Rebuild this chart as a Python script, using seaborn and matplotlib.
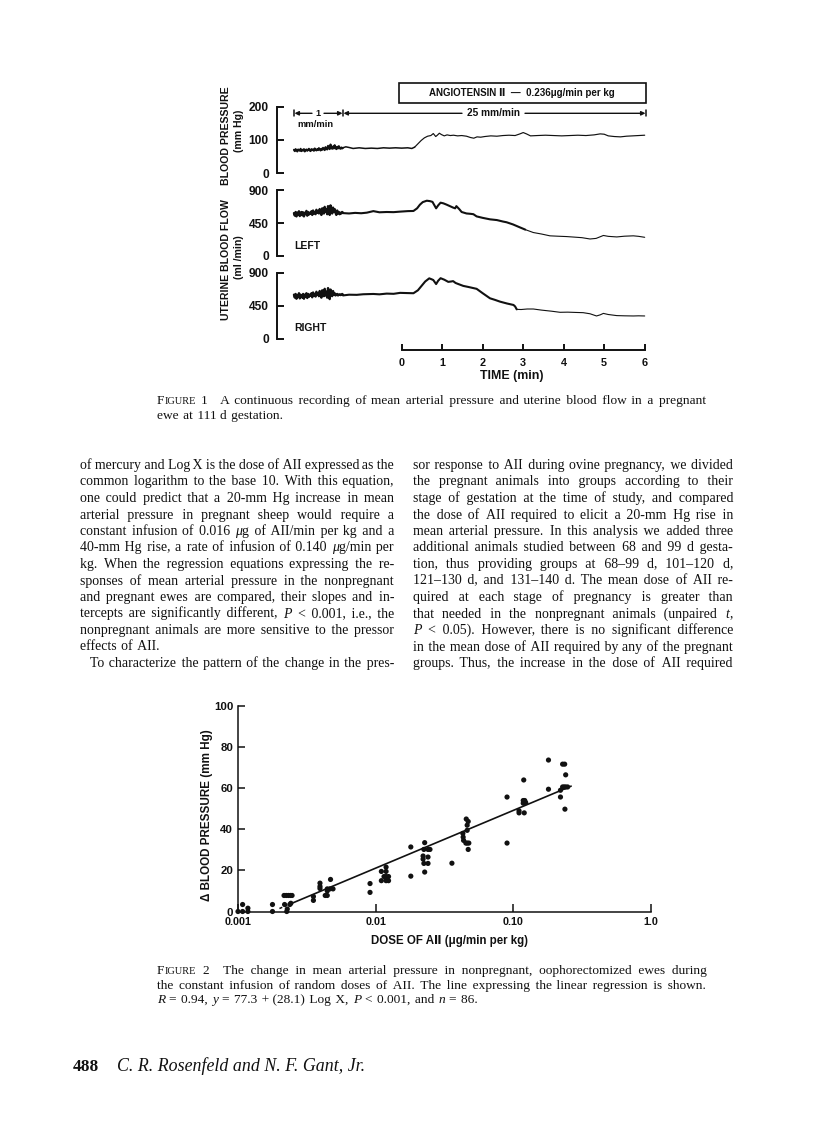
import numpy as np
import matplotlib
matplotlib.use("Agg")
import matplotlib.pyplot as plt
from matplotlib.patches import Rectangle, FancyArrowPatch
from matplotlib.lines import Line2D
from matplotlib.ticker import NullLocator
import seaborn as sns

# ======================= DATA =======================
# Figure 1 - continuous recording (time in min from start of AII infusion)
SLOW_T_RANGE = (-2.66, -1.45)      # compressed 1 mm/min section before the 25 mm/min record
BP_SLOW = [70, 66, 72, 68, 65, 71, 69, 67, 73, 66,
           70, 68, 72, 65, 69, 71, 67, 70, 73, 68,
           66, 72, 69, 71, 67, 74, 70, 68, 72, 69,
           75, 71, 68, 73, 70, 76, 72, 69, 78, 73,
           71, 82, 75, 72, 86, 77, 73, 80, 74, 84,
           76, 72, 79, 74, 81, 75, 73, 77, 74, 76]
LEFT_SLOW = [585, 550, 600, 540, 590, 560, 610, 545, 580, 600,
             555, 595, 540, 590, 570, 615, 550, 600, 565, 590,
             575, 610, 560, 620, 580, 600, 570, 630, 590, 615,
             580, 640, 600, 560, 650, 610, 580, 670, 600, 640,
             570, 680, 610, 560, 690, 620, 580, 660, 600, 640,
             590, 560, 620, 580, 600, 570, 590, 580, 600, 590]
RIGHT_SLOW = [600, 560, 610, 545, 590, 570, 620, 550, 600, 580,
              560, 610, 545, 600, 575, 620, 555, 610, 570, 600,
              585, 620, 565, 630, 590, 610, 575, 640, 600, 620,
              580, 650, 600, 560, 660, 610, 580, 680, 590, 640,
              560, 690, 620, 540, 670, 610, 580, 650, 600, 620,
              590, 600, 610, 590, 600, 605, 595, 600, 610, 600]

BP_FAST_T = [-1.45, -1.38, -1.30, -1.20, -1.05, -0.90, -0.75, -0.60, -0.45, -0.30,
             -0.15, 0.00, 0.15, 0.25, 0.32, 0.40, 0.48, 0.56, 0.64, 0.72,
             0.78, 0.84, 0.88, 0.93, 0.98, 1.05, 1.12, 1.20, 1.28, 1.38,
             1.48, 1.60, 1.70, 1.78, 1.86, 1.95, 2.05, 2.20, 2.35, 2.50,
             2.65, 2.80, 2.92, 3.00, 3.08, 3.18, 3.35, 3.55, 3.75, 3.95,
             4.15, 4.35, 4.55, 4.75, 4.90, 5.00, 5.10, 5.25, 5.40, 5.55,
             5.70, 5.85, 6.00]
BP_FAST = [76, 79, 77, 74, 76, 74, 75, 74, 76, 75,
           76, 75, 76, 74, 78, 88, 98, 106, 111, 113,
           119, 110, 114, 120, 116, 112, 115, 113, 114, 112,
           113, 111, 107, 105, 109, 108, 110, 112, 111, 113,
           114, 113, 118, 122, 118, 112, 113, 114, 113, 112,
           113, 114, 113, 115, 118, 117, 112, 110, 109, 111,
           112, 113, 114]

LEFT_FAST_T = [-1.45, -1.30, -1.15, -1.00, -0.86, -0.70, -0.55, -0.37, -0.20, -0.04,
               0.15, 0.29, 0.38, 0.45, 0.52, 0.62, 0.70, 0.76, 0.85, 0.90,
               0.96, 1.03, 1.11, 1.19, 1.27, 1.32, 1.35, 1.42, 1.48, 1.60,
               1.70, 1.77, 1.85, 2.00, 2.18, 2.35, 2.50, 2.59, 2.75, 2.92,
               3.05, 3.25, 3.45, 3.66, 3.85, 4.07, 4.25, 4.45, 4.65, 4.80,
               4.90, 4.98, 5.10, 5.31, 5.50, 5.72, 5.85, 6.00]
LEFT_FAST = [585, 580, 588, 583, 591, 612, 596, 600, 598, 605,
             612, 614, 650, 700, 735, 754, 748, 738, 650, 690,
             727, 718, 700, 680, 660, 650, 680, 640, 600, 580,
             575, 570, 540, 520, 500, 490, 470, 460, 430, 390,
             360, 320, 300, 275, 270, 265, 258, 250, 232, 240,
             262, 280, 268, 260, 270, 275, 268, 255]

RIGHT_FAST_T = [-1.45, -1.30, -1.11, -0.95, -0.70, -0.55, -0.37, -0.20, -0.04, 0.15,
                0.29, 0.40, 0.49, 0.58, 0.68, 0.74, 0.78, 0.85, 0.90, 0.96,
                1.05, 1.15, 1.22, 1.27, 1.33, 1.40, 1.52, 1.65, 1.85, 2.00,
                2.18, 2.30, 2.43, 2.60, 2.76, 2.80, 2.84, 2.95, 3.10, 3.25,
                3.45, 3.70, 3.91, 4.10, 4.30, 4.48, 4.65, 4.81, 4.90, 4.98,
                5.10, 5.31, 5.50, 5.72, 5.85, 6.00]
RIGHT_FAST = [590, 600, 598, 606, 610, 605, 615, 612, 625, 622,
              620, 660, 720, 780, 823, 810, 800, 745, 790, 825,
              805, 775, 780, 785, 760, 745, 720, 705, 680, 620,
              551, 530, 505, 480, 460, 440, 400, 398, 405, 405,
              390, 375, 360, 362, 358, 355, 340, 310, 325, 345,
              330, 315, 312, 310, 312, 310]
LEFT_FADE_T = 3.05
RIGHT_FADE_T = 2.84

BP_TICKS = [0, 100, 200]
UBF_TICKS = [0, 450, 900]
TIME_TICKS = [0, 1, 2, 3, 4, 5, 6]

# Figure 2 - change in mean arterial pressure vs dose of AII
DOSE = [0.00100, 0.00108, 0.00108, 0.00118, 0.00118, 0.00178, 0.00178,
        0.00216, 0.00224, 0.00232, 0.00240, 0.00247, 0.00218, 0.00238, 0.00228, 0.00226, 0.00242,
        0.00353, 0.00353, 0.00394, 0.00394, 0.00394, 0.00430, 0.00445, 0.00445, 0.00465,
        0.00490, 0.00445, 0.00470,
        0.0091, 0.0091, 0.0110, 0.0110, 0.0119, 0.0119, 0.0119, 0.0119, 0.0115, 0.0124, 0.0124,
        0.0180, 0.0180,
        0.0227, 0.0224, 0.0240, 0.0248, 0.0221, 0.0221, 0.0240, 0.0224, 0.0240, 0.0227,
        0.0358, 0.0430, 0.0432, 0.0435, 0.0455, 0.0462, 0.0470, 0.0462, 0.0452, 0.0462,
        0.0475, 0.0470,
        0.0900, 0.0900, 0.110, 0.110, 0.120, 0.119, 0.118, 0.121, 0.118, 0.123,
        0.180, 0.180, 0.228, 0.236, 0.240, 0.220, 0.228, 0.234, 0.240, 0.248, 0.220, 0.237]
DELTA_BP = [0.0, 3.4, 0.0, 1.6, 0.0, 3.4, 0.0,
            7.8, 7.8, 7.8, 7.8, 7.8, 3.4, 3.4, 1.2, 0.0, 4.0,
            7.3, 5.4, 13.8, 12.2, 11.2, 7.8, 7.8, 11.0, 11.0,
            11.0, 10.0, 15.6,
            13.6, 9.3, 19.5, 15.0, 21.6, 19.5, 17.0, 15.0, 17.0, 17.0, 15.0,
            31.4, 17.2,
            33.5, 30.2, 30.2, 30.2, 27.0, 25.5, 26.5, 23.4, 23.4, 19.2,
            23.5, 38.0, 36.2, 34.6, 45.0, 42.0, 43.8, 39.5, 33.3, 33.3,
            33.3, 30.2,
            55.7, 33.3, 49.0, 48.0, 48.0, 64.0, 54.0, 54.0, 52.7, 53.0,
            73.7, 59.5, 71.7, 71.7, 66.5, 59.0, 60.6, 60.6, 60.6, 60.6, 55.7, 49.8]
REG_INTERCEPT = 77.3
REG_SLOPE = 28.1
REG_DASH_RANGE = [0.00200, 0.00235]
REG_SOLID_RANGE = [0.00235, 0.263]
DOSE_TICKS = [0.001, 0.01, 0.1, 1.0]
DOSE_TICK_LABELS = ["0.001", "0.01", "0.10", "1.0"]
DBP_TICKS = [0, 20, 40, 60, 80, 100]

# Text of the page
BODY_LEFT = [
    "of mercury and Log X is the dose of AII expressed as the",
    "common logarithm to the base 10. With this equation,",
    "one could predict that a 20-mm Hg increase in mean",
    "arterial pressure in pregnant sheep would require a",
    "constant infusion of 0.016 ~\u03bc~g of AII/min per kg and a",
    "40-mm Hg rise, a rate of infusion of 0.140 ~\u03bc~g/min per",
    "kg. When the regression equations expressing the re-",
    "sponses of mean arterial pressure in the nonpregnant",
    "and pregnant ewes are compared, their slopes and in-",
    "tercepts are significantly different, ~P~ < 0.001, i.e., the",
    "nonpregnant animals are more sensitive to the pressor",
    "effects of AII.",
    "To characterize the pattern of the change in the pres-",
]
BODY_RIGHT = [
    "sor response to AII during ovine pregnancy, we divided",
    "the pregnant animals into groups according to their",
    "stage of gestation at the time of study, and compared",
    "the dose of AII required to elicit a 20-mm Hg rise in",
    "mean arterial pressure. In this analysis we added three",
    "additional animals studied between 68 and 99 d gesta-",
    "tion, thus providing groups at 68\u201399 d, 101\u2013120 d,",
    "121\u2013130 d, and 131\u2013140 d. The mean dose of AII re-",
    "quired at each stage of pregnancy is greater than",
    "that needed in the nonpregnant animals (unpaired ~t~,",
    "~P~ < 0.05). However, there is no significant difference",
    "in the mean dose of AII required by any of the pregnant",
    "groups. Thus, the increase in the dose of AII required",
]
CAPTION1 = [
    "F^IGURE^ 1  A continuous recording of mean arterial pressure and uterine blood flow in a pregnant",
    "ewe at 111 d gestation.",
]
CAPTION2 = [
    "F^IGURE^ 2  The change in mean arterial pressure in nonpregnant, oophorectomized ewes during",
    "the constant infusion of random doses of AII. The line expressing the linear regression is shown.",
    "~R~ = 0.94, ~y~ = 77.3 + (28.1) Log X, ~P~ < 0.001, and ~n~ = 86.",
]

# ======================= SETUP =======================
sns.set_style("white")
SANS = ["Liberation Sans", "DejaVu Sans"]
SERIF = ["Liberation Serif", "DejaVu Serif"]
plt.rcParams["font.family"] = SANS
INK = "#111111"

W, H = 816, 1140
fig = plt.figure(figsize=(W / 100, H / 100), dpi=100)
fig.patch.set_facecolor("white")
renderer = fig.canvas.get_renderer()


def fx(x):
    return x / W


def fy(y):
    return 1 - y / H


def add_ax(x0, ytop, x1, ybot):
    ax = fig.add_axes([fx(x0), fy(ybot), (x1 - x0) / W, (ybot - ytop) / H])
    ax.patch.set_alpha(0)
    return ax


def measure(s, size, family, ital=False, weight="normal"):
    t = fig.text(0, 0, s, fontsize=size, family=family,
                 style="italic" if ital else "normal", weight=weight)
    w = t.get_window_extent(renderer).width
    t.remove()
    return w


def fit_size(s, width_px, family=SANS, weight="bold", style="normal", ref=10.0):
    return ref * width_px / measure(s, ref, family, style == "italic", weight)


def put_text(X, Y, s, size, family=SANS, weight="bold", style="normal",
             rotation=0, ha="center", va="center"):
    return fig.text(fx(X), fy(Y), s, fontsize=size, family=family, weight=weight,
                    style=style, rotation=rotation, ha=ha, va=va, color=INK,
                    rotation_mode="anchor")


def fit_text(X, Y, s, width_px, family=SANS, weight="bold", style="normal",
             rotation=0, ha="center", va="center"):
    size = fit_size(s, width_px, family, weight, style)
    return put_text(X, Y, s, size, family, weight, style, rotation, ha, va)


def pline(X0, Y0, X1, Y1, lw=1.0):
    fig.add_artist(Line2D([fx(X0), fx(X1)], [fy(Y0), fy(Y1)], lw=lw, color=INK,
                          transform=fig.transFigure))


def parrow(X0, Y, X1, lw=1.0):
    fig.add_artist(FancyArrowPatch((fx(X0), fy(Y)), (fx(X1), fy(Y)),
                                   arrowstyle="-|>", mutation_scale=6, lw=lw,
                                   color=INK, transform=fig.transFigure,
                                   shrinkA=0, shrinkB=0))


# ---------- justified text helpers ----------
HAIR = "\u200a"


def parse(tok):
    segs, buf, ital, sc = [], "", False, False
    for ch in tok:
        if ch in "~^":
            if buf:
                segs.append((buf, ital, sc))
                buf = ""
            if ch == "~":
                ital = not ital
            else:
                sc = not sc
        else:
            buf += ch
    if buf:
        segs.append((buf, ital, sc))
    return segs


def seg_list(tok, size):
    return [(t.upper() if sc else t, it, size * 0.78 if sc else size)
            for t, it, sc in parse(tok)]


def tok_list(line):
    toks, extra = [], []
    for r in line.split(" "):
        if r == "":
            if extra:
                extra[-1] += 1
            continue
        toks.append(r)
        extra.append(0)
    return toks, extra


def tok_width(tok, size, family):
    return sum(measure(t, s, family, it) for t, it, s in seg_list(tok, size))


def block_size(lines, width, family, target, min_gap=0.2):
    worst = 0.0
    em = target * 100 / 72
    for line in lines:
        toks, extra = tok_list(line)
        nat = sum(tok_width(t, target, family) for t in toks)
        nat += (len(toks) - 1) * min_gap * em + sum(extra) * 0.5 * em
        worst = max(worst, nat / width)
    return target / max(worst, 1.0)


_hair_cache = {}


def hair_width(size, family, ital):
    key = (size, ital)
    if key not in _hair_cache:
        _hair_cache[key] = (measure("a" + HAIR * 20 + "a", size, family, ital)
                            - measure("aa", size, family, ital)) / 20.0
    return _hair_cache[key]


def draw_line(line, x0, x1, ybase, size, family, justify=True, indent=0.0):
    """Justified line drawn as few text runs; word gaps are filled with hair spaces."""
    toks, extra = tok_list(line)
    em = size * 100 / 72
    segs_per = [seg_list(t, size) for t in toks]
    seg_w = [[measure(t, s, family, it) for t, it, s in sg] for sg in segs_per]
    widths = [sum(w) for w in seg_w]
    extra_px = [e * 0.5 * em for e in extra]
    n = len(toks)
    if justify and n > 1:
        gap = (x1 - x0 - indent - sum(widths) - sum(extra_px[:-1])) / (n - 1)
    else:
        gap = 0.32 * em
    xs, x = [], x0 + indent
    for i in range(n):
        xs.append(x)
        x += widths[i] + gap + extra_px[i]
    runs = []
    for i, sg in enumerate(segs_per):
        for j, (t, it, s) in enumerate(sg):
            if j == 0 and runs and runs[-1][2] == it and runs[-1][3] == s:
                r = runs[-1]
                hw = hair_width(s, family, it)
                cur = measure(r[1], s, family, it)
                k = max(1, int(round((xs[i] - r[0] - cur) / hw)))
                target = xs[i] + seg_w[i][0] - r[0]
                m = measure(r[1] + HAIR * k + t, s, family, it)
                k = max(1, k + int(round((target - m) / hw)))
                r[1] += HAIR * k + t
            elif j > 0 and runs and runs[-1][2] == it and runs[-1][3] == s:
                runs[-1][1] += t
            else:
                rx = xs[i] + sum(seg_w[i][:j])
                runs.append([rx, t, it, s])
    for rx, t, it, s in runs:
        fig.text(fx(rx), fy(ybase), t, fontsize=s, family=family,
                 style="italic" if it else "normal", va="baseline", ha="left",
                 color=INK)


# ======================= FIGURE 1 =======================
T0_X, PX_MIN = 401.7, 40.5          # pixel of t = 0 and pixels per minute
XL, XR = 276.5, 650
XLIM = ((XL - T0_X) / PX_MIN, (XR - T0_X) / PX_MIN)

ax_bp = add_ax(XL, 106.7, XR, 173.0)
ax_l = add_ax(XL, 190.0, XR, 256.0)
ax_r = add_ax(XL, 272.7, XR, 338.7)
ax_t = add_ax(XL, 340.0, XR, 350.0)

slow_t = np.linspace(SLOW_T_RANGE[0], SLOW_T_RANGE[1], len(BP_SLOW))


def draw_trace(ax, t, v, fade_t, lw_a, lw_b):
    t = np.asarray(t, float)
    v = np.asarray(v, float)
    k = int(np.searchsorted(t, fade_t))
    sns.lineplot(x=t[:k + 1], y=v[:k + 1], ax=ax, color=INK, linewidth=lw_a,
                 estimator=None, sort=False)
    sns.lineplot(x=t[k:], y=v[k:], ax=ax, color=INK, linewidth=lw_b,
                 estimator=None, sort=False)


sns.lineplot(x=slow_t, y=BP_SLOW, ax=ax_bp, color=INK, linewidth=1.5, estimator=None, sort=False)
draw_trace(ax_bp, BP_FAST_T, BP_FAST, 0.3, 1.1, 0.85)
sns.lineplot(x=slow_t, y=LEFT_SLOW, ax=ax_l, color=INK, linewidth=1.7, estimator=None, sort=False)
draw_trace(ax_l, LEFT_FAST_T, LEFT_FAST, LEFT_FADE_T, 1.5, 0.8)
sns.lineplot(x=slow_t, y=RIGHT_SLOW, ax=ax_r, color=INK, linewidth=1.7, estimator=None, sort=False)
draw_trace(ax_r, RIGHT_FAST_T, RIGHT_FAST, RIGHT_FADE_T, 1.5, 0.8)


def trace_axes(ax, ymax, ticks):
    ax.set_xlim(*XLIM)
    ax.set_ylim(0, ymax)
    for s in ["top", "right", "bottom"]:
        ax.spines[s].set_visible(False)
    ax.spines["left"].set_linewidth(1.4)
    ax.spines["left"].set_color(INK)
    ax.set_xticks([])
    ax.set_yticks(ticks)
    ax.set_yticklabels([str(t) for t in ticks])
    ax.tick_params(axis="y", direction="in", length=5, width=1.4, pad=5.5,
                   labelsize=8.6, colors=INK, left=True)
    for lab in ax.get_yticklabels():
        lab.set_fontweight("bold")
    ax.set_xlabel("")
    ax.set_ylabel("")


trace_axes(ax_bp, 200, BP_TICKS)
trace_axes(ax_l, 900, UBF_TICKS)
trace_axes(ax_r, 900, UBF_TICKS)

ax_t.set_xlim(*XLIM)
ax_t.set_ylim(0, 1)
for s in ["top", "right", "left"]:
    ax_t.spines[s].set_visible(False)
ax_t.spines["bottom"].set_bounds(TIME_TICKS[0], TIME_TICKS[-1])
ax_t.spines["bottom"].set_linewidth(1.4)
ax_t.spines["bottom"].set_color(INK)
ax_t.set_yticks([])
ax_t.set_xticks(TIME_TICKS)
ax_t.set_xticklabels([str(t) for t in TIME_TICKS])
ax_t.tick_params(axis="x", direction="in", length=4.5, width=1.4, pad=5.5,
                 labelsize=7.8, colors=INK, bottom=True)
for lab in ax_t.get_xticklabels():
    lab.set_fontweight("bold")

# axis titles and annotations of figure 1
lab_size = fit_size("UTERINE BLOOD FLOW", 120)
put_text(226, 136, "BLOOD PRESSURE", lab_size, rotation=90)
put_text(239, 131, "(mm Hg)", lab_size, rotation=90)
put_text(226, 260, "UTERINE BLOOD FLOW", lab_size, rotation=90)
put_text(239, 257, "(ml /min)", lab_size, rotation=90)
fit_text(512, 376, "TIME (min)", 63)
side_size = fit_size("RIGHT", 32)
put_text(294, 246, "LEFT", side_size, ha="left")
put_text(294, 328, "RIGHT", side_size, ha="left")

# infusion box
fig.add_artist(Rectangle((fx(399), fy(103)), (646 - 399) / W, (103 - 83) / H,
                         fill=False, lw=1.2, edgecolor=INK, transform=fig.transFigure))
fit_text(522, 93.5, "ANGIOTENSIN \u2161  \u2014  0.236\u03bcg/min per kg", 185)

# chart-speed markers
MY = 113.3
for xb in (294, 343, 646):
    pline(xb, MY - 3, xb, MY + 3, lw=1.1)
parrow(312, MY, 294.5)
parrow(324, MY, 342.5)
parrow(462, MY, 343.5)
parrow(525, MY, 645.5)
fit_text(318, MY, "1", 5)
fit_text(493.5, MY, "25 mm/min", 53)
fit_text(315, 124.5, "mm/min", 36)

# ======================= FIGURE 2 =======================
ax2 = add_ax(238, 706, 651, 911.5)
sns.scatterplot(x=DOSE, y=DELTA_BP, ax=ax2, color=INK, s=14, edgecolor="none",
                linewidth=0, clip_on=False, zorder=3)
reg_dash = [REG_INTERCEPT + REG_SLOPE * np.log10(x) for x in REG_DASH_RANGE]
reg_solid = [REG_INTERCEPT + REG_SLOPE * np.log10(x) for x in REG_SOLID_RANGE]
sns.lineplot(x=REG_DASH_RANGE, y=reg_dash, ax=ax2, color=INK, linewidth=1.1,
             linestyle=(0, (2.0, 1.5)), estimator=None)
sns.lineplot(x=REG_SOLID_RANGE, y=reg_solid, ax=ax2, color=INK, linewidth=1.2,
             estimator=None)
ax2.set_xscale("log")
ax2.set_xlim(DOSE_TICKS[0], DOSE_TICKS[-1])
ax2.set_ylim(DBP_TICKS[0], DBP_TICKS[-1])
for s in ["top", "right"]:
    ax2.spines[s].set_visible(False)
for s in ["left", "bottom"]:
    ax2.spines[s].set_linewidth(1.1)
    ax2.spines[s].set_color(INK)
ax2.set_xticks(DOSE_TICKS)
ax2.set_xticklabels(DOSE_TICK_LABELS)
ax2.xaxis.set_minor_locator(NullLocator())
ax2.set_yticks(DBP_TICKS)
ax2.set_yticklabels([str(t) for t in DBP_TICKS])
ax2.tick_params(axis="x", direction="in", length=5.5, width=1.1, pad=4,
                labelsize=7.8, colors=INK, bottom=True)
ax2.tick_params(axis="y", direction="in", length=5, width=1.1, pad=3.5,
                labelsize=8.2, colors=INK, left=True)
for lab in ax2.get_xticklabels() + ax2.get_yticklabels():
    lab.set_fontweight("bold")
ax2.set_xlabel("")
ax2.set_ylabel("")
fit_text(207, 815, "\u0394 BLOOD PRESSURE (mm Hg)", 172, rotation=90)
fit_text(449, 941, "DOSE OF A\u2161 (\u03bcg/min per kg)", 158)

# ======================= TEXT OF THE PAGE =======================
body_size = block_size([l for i, l in enumerate(BODY_LEFT) if i != 11] + BODY_RIGHT,
                       314, SERIF, 10.0)
BODY_Y0, BODY_DY = 469.0, 16.5
for i, line in enumerate(BODY_LEFT):
    draw_line(line, 80, 394, BODY_Y0 + i * BODY_DY, body_size, SERIF,
              justify=(i != 11), indent=(10 if i == 12 else 0))
for i, line in enumerate(BODY_RIGHT):
    draw_line(line, 413, 733, BODY_Y0 + i * BODY_DY, body_size, SERIF, justify=True)

cap_size = block_size(CAPTION1[:1] + CAPTION2[:2], 549, SERIF, 9.6)
for i, line in enumerate(CAPTION1):
    draw_line(line, 157, 706, 404 + i * 14.5, cap_size, SERIF, justify=(i == 0))
for i, line in enumerate(CAPTION2):
    draw_line(line, 157, 706, 974 + i * 14.5, cap_size, SERIF, justify=(i < 2))

put_text(73, 1071, "488", fit_size("488", 26, SERIF, "bold"), family=SERIF,
         ha="left", va="baseline")
put_text(117, 1071, "C. R. Rosenfeld and N. F. Gant, Jr.",
         fit_size("C. R. Rosenfeld and N. F. Gant, Jr.", 248, SERIF, "normal", "italic"),
         family=SERIF, weight="normal", style="italic", ha="left", va="baseline")

fig.savefig("out.png", dpi=100, facecolor="white")
